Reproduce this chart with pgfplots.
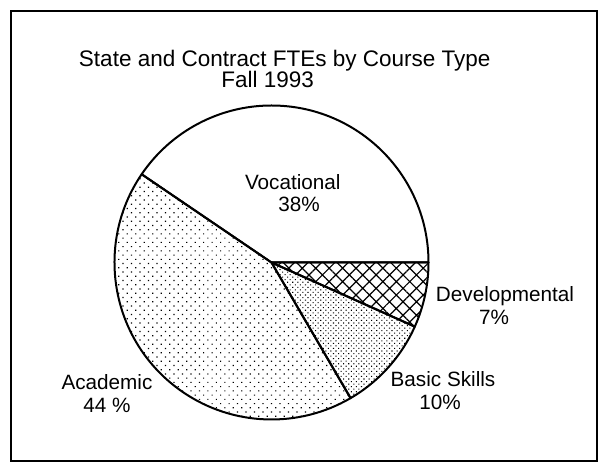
\documentclass[border=0pt]{standalone}
\usepackage{pgfplots}
\pgfplotsset{compat=1.18}
\usepackage{pgfplotstable}
\usetikzlibrary{patterns.meta}
\usepackage{fontspec}
\setmainfont{Liberation Sans}

% shares of the circle as drawn (percent)
\pgfplotstableread{
name share
Vocational 40.5
Academic 42.9
BasicSkills 9.9
Developmental 6.7
}\piedata

\tikzset{
 slice0/.style={fill=white},
 slice1/.style={pattern={Dots[distance=6pt,radius=0.85pt,angle=45]}},
 slice2/.style={pattern={Dots[distance=3.6pt,radius=0.75pt,angle=45]}},
 slice3/.style={pattern={Hatch[angle=45,distance=9.5pt,line width=1.2pt]}},
 lab/.style={anchor=base,font=\fontsize{20.7}{24}\selectfont},
 ttl/.style={anchor=base,font=\fontsize{22.5}{26}\selectfont},
}

\begin{document}
\begin{tikzpicture}
\begin{axis}[x=1pt,y=1pt,xmin=0,xmax=600,ymin=0,ymax=463,hide axis,clip=false,disabledatascaling]
\path (axis cs:0,0) rectangle (axis cs:600,463);
\draw[line width=2pt] (axis cs:11,2) rectangle (axis cs:597,452);
\gdef\startang{0}
\pgfplotsforeachungrouped \i in {0,1,2,3}{%
  \pgfplotstablegetelem{\i}{share}\of\piedata
  \pgfmathsetmacro\sweep{3.6*\pgfplotsretval}%
  \pgfmathsetmacro\endang{\startang+\sweep}%
  \pgfmathsetmacro\sx{271.5+157*cos(\startang)}%
  \pgfmathsetmacro\sy{200.5+157*sin(\startang)}%
  \edef\slice{\noexpand\draw[line width=2pt,line join=round,slice\i] (axis cs:271.5,200.5) -- (axis cs:\sx,\sy) arc[start angle=\startang,end angle=\endang,radius=157pt] -- cycle;}%
  \slice
  \global\let\startang\endang
}
\node[ttl] at (axis cs:284.7,396) {State and Contract FTEs by Course Type};
\node[ttl] at (axis cs:267.6,375) {Fall 1993};
\node[lab] at (axis cs:292.8,273) {Vocational};
\node[lab] at (axis cs:299,251) {38\%};
\node[lab] at (axis cs:505,161) {Developmental};
\node[lab] at (axis cs:494,138) {7\%};
\node[lab] at (axis cs:443,76) {Basic Skills};
\node[lab] at (axis cs:440,53) {10\%};
\node[lab] at (axis cs:107,73) {Academic};
\node[lab] at (axis cs:107,50) {44 \%};
\end{axis}
\end{tikzpicture}
\end{document}
